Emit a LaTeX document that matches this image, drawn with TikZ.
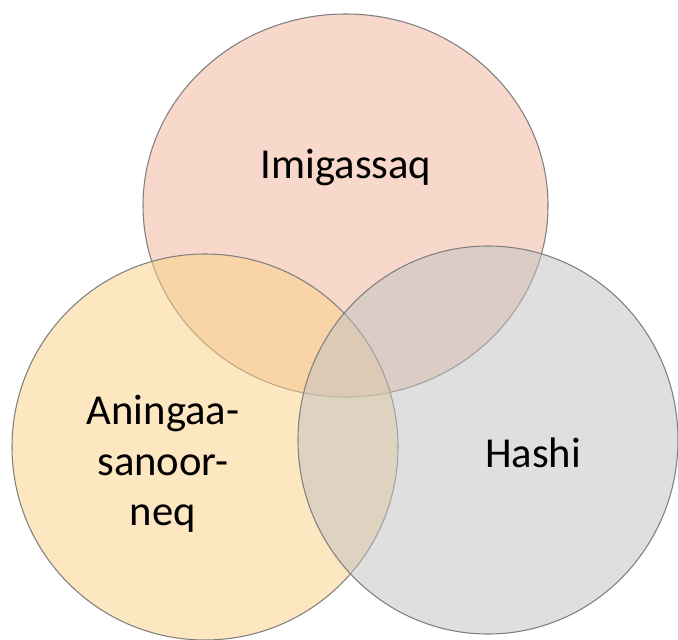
\documentclass[tikz,border=0pt]{standalone}
\usepackage{fontspec}
\setmainfont{Carlito}
\definecolor{topc}{RGB}{241,179,153}
\definecolor{leftc}{RGB}{251,209,133}
\definecolor{rightc}{RGB}{193,193,193}
\definecolor{edgec}{RGB}{128,128,128}
\begin{document}
\begin{tikzpicture}[x=0.75pt,y=-0.75pt,
  setshape/.style={fill opacity=0.5,draw=edgec,line width=0.8pt},
  setlabel/.style={font=\fontsize{32}{38}\selectfont,text=black,align=center,inner sep=0pt}]
\useasboundingbox (0,0) rectangle (678,639);
\fill[white] (0,0) rectangle (678,639);
\path[setshape,fill=topc] (345.5,205.5) ellipse [x radius=202.5, y radius=191.5];
\path[setshape,fill=leftc] (205,447) ellipse [x radius=193, y radius=193];
\path[setshape,fill=rightc] (488,440) ellipse [x radius=190, y radius=194];
\node[setlabel] (imi) at (346,167) {Imigassaq};
\node[setlabel] (ani) at (163,464) {Aningaa-\\sanoor-\\neq};
\node[setlabel] (hashi) at (533,453) {Hashi};
\end{tikzpicture}
\end{document}
